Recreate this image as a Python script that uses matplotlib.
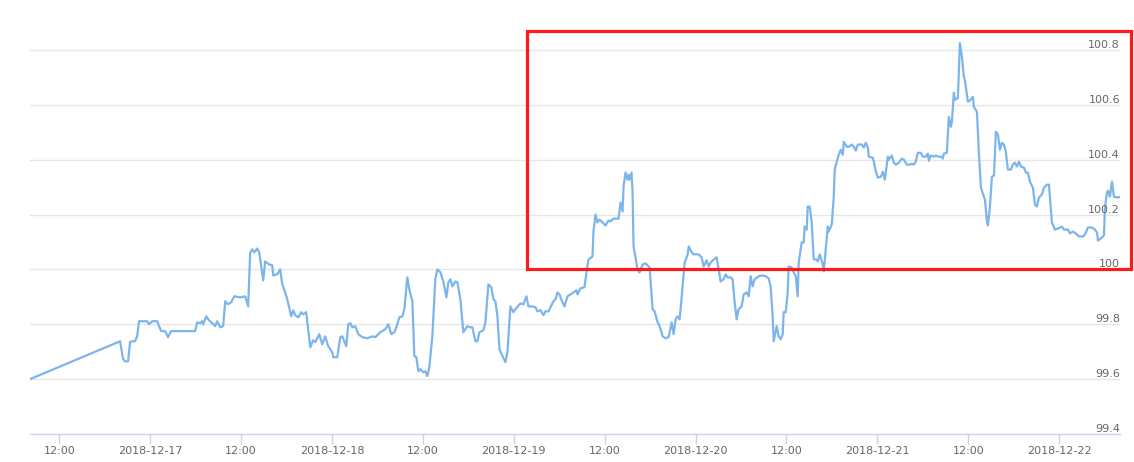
import matplotlib
matplotlib.use("Agg")
import matplotlib.pyplot as plt
import matplotlib.dates as mdates
from matplotlib.patches import Rectangle
from matplotlib.ticker import FuncFormatter
import pandas as pd

# hours after 2018-12-16 00:00
hours = [
    8.13, 20.02, 20.42, 20.68, 21.08, 21.34, 21.61, 22.00, 22.27, 22.53,
    23.59, 23.85, 24.25, 24.91, 25.17, 25.44, 25.97, 26.36, 26.76, 29.93,
    30.20, 30.59, 30.86, 30.99, 31.39, 31.65, 32.18, 32.57, 32.84, 33.24,
    33.63, 33.90, 34.29, 34.69, 35.09, 35.88, 36.54, 36.93, 37.20, 37.46,
    37.73, 38.12, 38.39, 38.92, 39.18, 39.71, 40.11, 40.24, 40.77, 41.16,
    41.43, 41.56, 42.09, 42.62, 42.88, 43.15, 43.54, 43.94, 44.20, 44.60,
    44.73, 45.13, 45.52, 45.79, 46.32, 46.71, 47.11, 47.50, 48.03, 48.17,
    48.70, 49.09, 49.36, 49.88, 50.15, 50.41, 50.68, 51.07, 51.47, 52.00,
    52.66, 53.32, 53.72, 54.38, 55.04, 55.43, 55.83, 56.23, 56.49, 56.89,
    57.28, 57.55, 57.94, 58.21, 58.61, 58.87, 59.13, 59.40, 59.66, 60.06,
    60.32, 60.59, 60.85, 61.25, 61.64, 61.91, 62.31, 62.70, 63.10, 63.36,
    63.63, 63.89, 64.29, 64.55, 64.95, 65.34, 65.87, 66.27, 66.53, 66.93,
    67.19, 67.46, 67.99, 68.25, 68.65, 69.04, 69.31, 69.57, 69.84, 70.10,
    70.50, 70.89, 71.16, 71.55, 71.95, 72.22, 72.88, 73.27, 73.67, 73.93,
    74.46, 74.86, 75.12, 75.52, 75.92, 76.18, 76.58, 77.24, 77.50, 77.77,
    78.03, 78.43, 78.69, 79.09, 79.48, 79.88, 80.28, 80.41, 80.81, 81.33,
    81.60, 81.86, 82.39, 82.52, 82.79, 83.05, 83.32, 83.71, 84.11, 84.50,
    84.77, 85.17, 85.83, 86.09, 86.36, 86.49, 86.75, 87.02, 87.15, 87.28,
    87.55, 87.68, 87.81, 88.34, 88.60, 89.00, 89.40, 89.93, 90.32, 90.59,
    90.99, 91.25, 91.65, 92.04, 92.44, 92.84, 93.10, 93.37, 93.63, 93.90,
    94.29, 94.56, 94.96, 95.09, 95.48, 95.75, 96.40, 96.79, 97.06, 97.46,
    97.72, 97.99, 98.38, 98.78, 99.31, 99.70, 99.97, 100.23, 100.63, 100.89,
    101.16, 101.42, 101.68, 102.08, 102.35, 102.74, 103.01, 103.27, 103.53, 103.80,
    104.33, 104.86, 105.25, 105.65, 105.91, 106.18, 106.31, 106.71, 106.97, 107.24,
    107.50, 107.63, 107.90, 108.16, 108.29, 108.69, 108.95, 109.22, 109.48, 109.61,
    110.01, 110.27, 110.40, 110.67, 110.80, 111.07, 111.33, 111.60, 111.99, 112.13,
    112.39, 112.79, 112.92, 113.18, 113.45, 113.58, 113.98, 114.24, 114.37, 114.77,
    114.90, 115.16, 115.43, 115.56, 115.96, 116.22, 116.62, 116.88, 117.15, 117.41,
    117.94, 118.21, 118.47, 118.74, 118.87, 119.40, 119.53, 119.80, 120.06, 120.46,
    120.72, 120.99, 121.38, 121.51, 121.91, 122.17, 122.44, 122.83, 123.22, 123.49,
    123.88, 124.28, 124.54, 124.81, 125.07, 125.34, 125.73, 126.00, 126.39, 126.66,
    126.79, 127.05, 127.45, 127.72, 127.98, 128.38, 128.64, 128.77, 129.17, 129.43,
    129.70, 129.83, 130.10, 130.23, 130.63, 130.89, 131.16, 131.42, 131.55, 131.95,
    132.21, 132.61, 132.74, 133.14, 133.40, 133.67, 134.06, 134.20, 134.46, 134.59,
    134.86, 135.12, 135.39, 135.65, 135.92, 136.18, 136.44, 136.70, 136.96, 137.23,
    137.63, 137.89, 138.15, 138.42, 138.69, 138.95, 139.34, 139.61, 139.87, 140.14,
    140.53, 140.80, 141.06, 141.33, 141.72, 141.99, 142.39, 142.65, 143.04, 143.44,
    143.84, 144.36, 144.63, 145.16, 145.42, 145.82, 146.21, 146.61, 147.14, 147.40,
    147.80, 148.20, 148.59, 148.99, 149.12, 149.52, 149.91, 150.04, 150.31, 150.44,
    150.70, 150.97, 151.23, 151.76, 152.03,
]

price = [
    99.600, 99.738, 99.673, 99.665, 99.665, 99.735, 99.738, 99.738, 99.756, 99.811,
    99.811, 99.800, 99.811, 99.811, 99.793, 99.775, 99.775, 99.753, 99.775, 99.775,
    99.807, 99.804, 99.811, 99.800, 99.829, 99.818, 99.804, 99.793, 99.811, 99.789,
    99.793, 99.884, 99.873, 99.880, 99.902, 99.898, 99.902, 99.865, 100.062, 100.073,
    100.062, 100.076, 100.062, 99.960, 100.029, 100.018, 100.015, 99.978, 99.982, 100.000,
    99.945, 99.938, 99.891, 99.829, 99.851, 99.833, 99.825, 99.844, 99.836, 99.844,
    99.811, 99.716, 99.742, 99.735, 99.764, 99.727, 99.756, 99.720, 99.698, 99.680,
    99.680, 99.753, 99.756, 99.720, 99.800, 99.804, 99.789, 99.793, 99.764, 99.753,
    99.749, 99.756, 99.753, 99.771, 99.782, 99.800, 99.764, 99.771, 99.789, 99.825,
    99.829, 99.855, 99.971, 99.927, 99.884, 99.684, 99.680, 99.629, 99.636, 99.625,
    99.629, 99.611, 99.644, 99.756, 99.964, 100.000, 99.989, 99.956, 99.898, 99.953,
    99.964, 99.938, 99.956, 99.953, 99.891, 99.771, 99.793, 99.789, 99.789, 99.738,
    99.738, 99.771, 99.778, 99.807, 99.945, 99.935, 99.891, 99.884, 99.829, 99.709,
    99.684, 99.662, 99.698, 99.865, 99.844, 99.855, 99.876, 99.873, 99.902, 99.865,
    99.865, 99.862, 99.847, 99.851, 99.833, 99.847, 99.847, 99.884, 99.891, 99.916,
    99.909, 99.880, 99.865, 99.902, 99.909, 99.916, 99.924, 99.909, 99.931, 99.935,
    99.989, 100.036, 100.047, 100.138, 100.200, 100.171, 100.182, 100.171, 100.160, 100.178,
    100.175, 100.185, 100.185, 100.244, 100.211, 100.302, 100.353, 100.327, 100.345, 100.327,
    100.353, 100.280, 100.084, 100.000, 99.989, 100.018, 100.022, 100.007, 99.855, 99.847,
    99.807, 99.793, 99.756, 99.749, 99.753, 99.807, 99.764, 99.818, 99.829, 99.818,
    99.938, 100.025, 100.055, 100.084, 100.062, 100.055, 100.055, 100.044, 100.011, 100.033,
    100.011, 100.025, 100.036, 100.044, 99.956, 99.964, 99.982, 99.971, 99.971, 99.964,
    99.880, 99.818, 99.855, 99.865, 99.909, 99.916, 99.902, 99.975, 99.938, 99.964,
    99.975, 99.978, 99.975, 99.967, 99.938, 99.829, 99.738, 99.793, 99.756, 99.745,
    99.764, 99.844, 99.844, 99.916, 100.011, 100.007, 99.989, 99.975, 99.902, 100.025,
    100.098, 100.098, 100.156, 100.145, 100.229, 100.229, 100.171, 100.036, 100.036, 100.029,
    100.055, 100.018, 99.993, 100.073, 100.156, 100.138, 100.164, 100.265, 100.364, 100.407,
    100.418, 100.436, 100.418, 100.465, 100.447, 100.447, 100.455, 100.447, 100.433, 100.455,
    100.455, 100.444, 100.462, 100.444, 100.411, 100.407, 100.393, 100.356, 100.335, 100.338,
    100.356, 100.327, 100.411, 100.400, 100.415, 100.389, 100.382, 100.389, 100.404, 100.400,
    100.382, 100.382, 100.385, 100.382, 100.393, 100.425, 100.425, 100.411, 100.411, 100.422,
    100.396, 100.415, 100.411, 100.415, 100.411, 100.411, 100.404, 100.422, 100.425, 100.556,
    100.520, 100.538, 100.644, 100.618, 100.625, 100.825, 100.775, 100.702, 100.691, 100.611,
    100.615, 100.629, 100.593, 100.575, 100.425, 100.298, 100.265, 100.255, 100.175, 100.160,
    100.229, 100.338, 100.342, 100.502, 100.491, 100.436, 100.462, 100.455, 100.429, 100.364,
    100.364, 100.382, 100.389, 100.375, 100.393, 100.375, 100.371, 100.353, 100.353, 100.320,
    100.298, 100.236, 100.229, 100.262, 100.273, 100.298, 100.309, 100.309, 100.171, 100.145,
    100.149, 100.156, 100.145, 100.145, 100.131, 100.138, 100.131, 100.120, 100.120, 100.127,
    100.153, 100.153, 100.149, 100.135, 100.105, 100.113, 100.124, 100.225, 100.280, 100.287,
    100.265, 100.320, 100.265, 100.262, 100.265,
]

y_ticks = [99.4, 99.6, 99.8, 100.0, 100.2, 100.4, 100.6, 100.8]
y_labels = ["99.4", "99.6", "99.8", "100", "100.2", "100.4", "100.6", "100.8"]

times = pd.Timestamp("2018-12-16") + pd.to_timedelta(hours, unit="h")
x_ticks = pd.date_range("2018-12-16 12:00", "2018-12-22 00:00", freq="12h")

fig = plt.figure(figsize=(11.34, 4.62), dpi=100)
ax = fig.add_axes([30 / 1134, 28 / 462, 1090 / 1134, 412 / 462])

ax.plot(times, price, color="#7cb5ec", lw=1.6, zorder=3, solid_joinstyle="round")

ax.set_xlim(times[0], times[-1])
ax.set_ylim(99.4, 100.8 + 28 / 275)

# grid + axes
ax.set_yticks(y_ticks)
ax.yaxis.grid(True, color="#e6e6e6", lw=1)
ax.tick_params(axis="y", length=0, labelleft=False)
for v, lab in zip(y_ticks, y_labels):
    ax.text(1.0, v, lab, transform=ax.get_yaxis_transform(), ha="right", va="bottom",
            fontsize=8, color="#666666")
for s in ["top", "right", "left"]:
    ax.spines[s].set_visible(False)
ax.spines["bottom"].set_color("#ccd6eb")
ax.spines["bottom"].set_linewidth(1)

ax.set_xticks(x_ticks)


def fmt(x, pos):
    d = mdates.num2date(x)
    if d.hour == 12:
        return "12:00"
    return d.strftime("%Y-%m-%d")


ax.xaxis.set_major_formatter(FuncFormatter(fmt))
ax.tick_params(axis="x", length=7, width=1, color="#ccd6eb", labelsize=8,
               labelcolor="#666666", pad=2)

# red highlight box
fig.patches.append(Rectangle((527 / 1134, (462 - 269) / 462), 604 / 1134, 238 / 462,
                             transform=fig.transFigure, fill=False, edgecolor="#ff1a1a",
                             lw=2.3, zorder=10))

fig.savefig("out.png", dpi=100)
